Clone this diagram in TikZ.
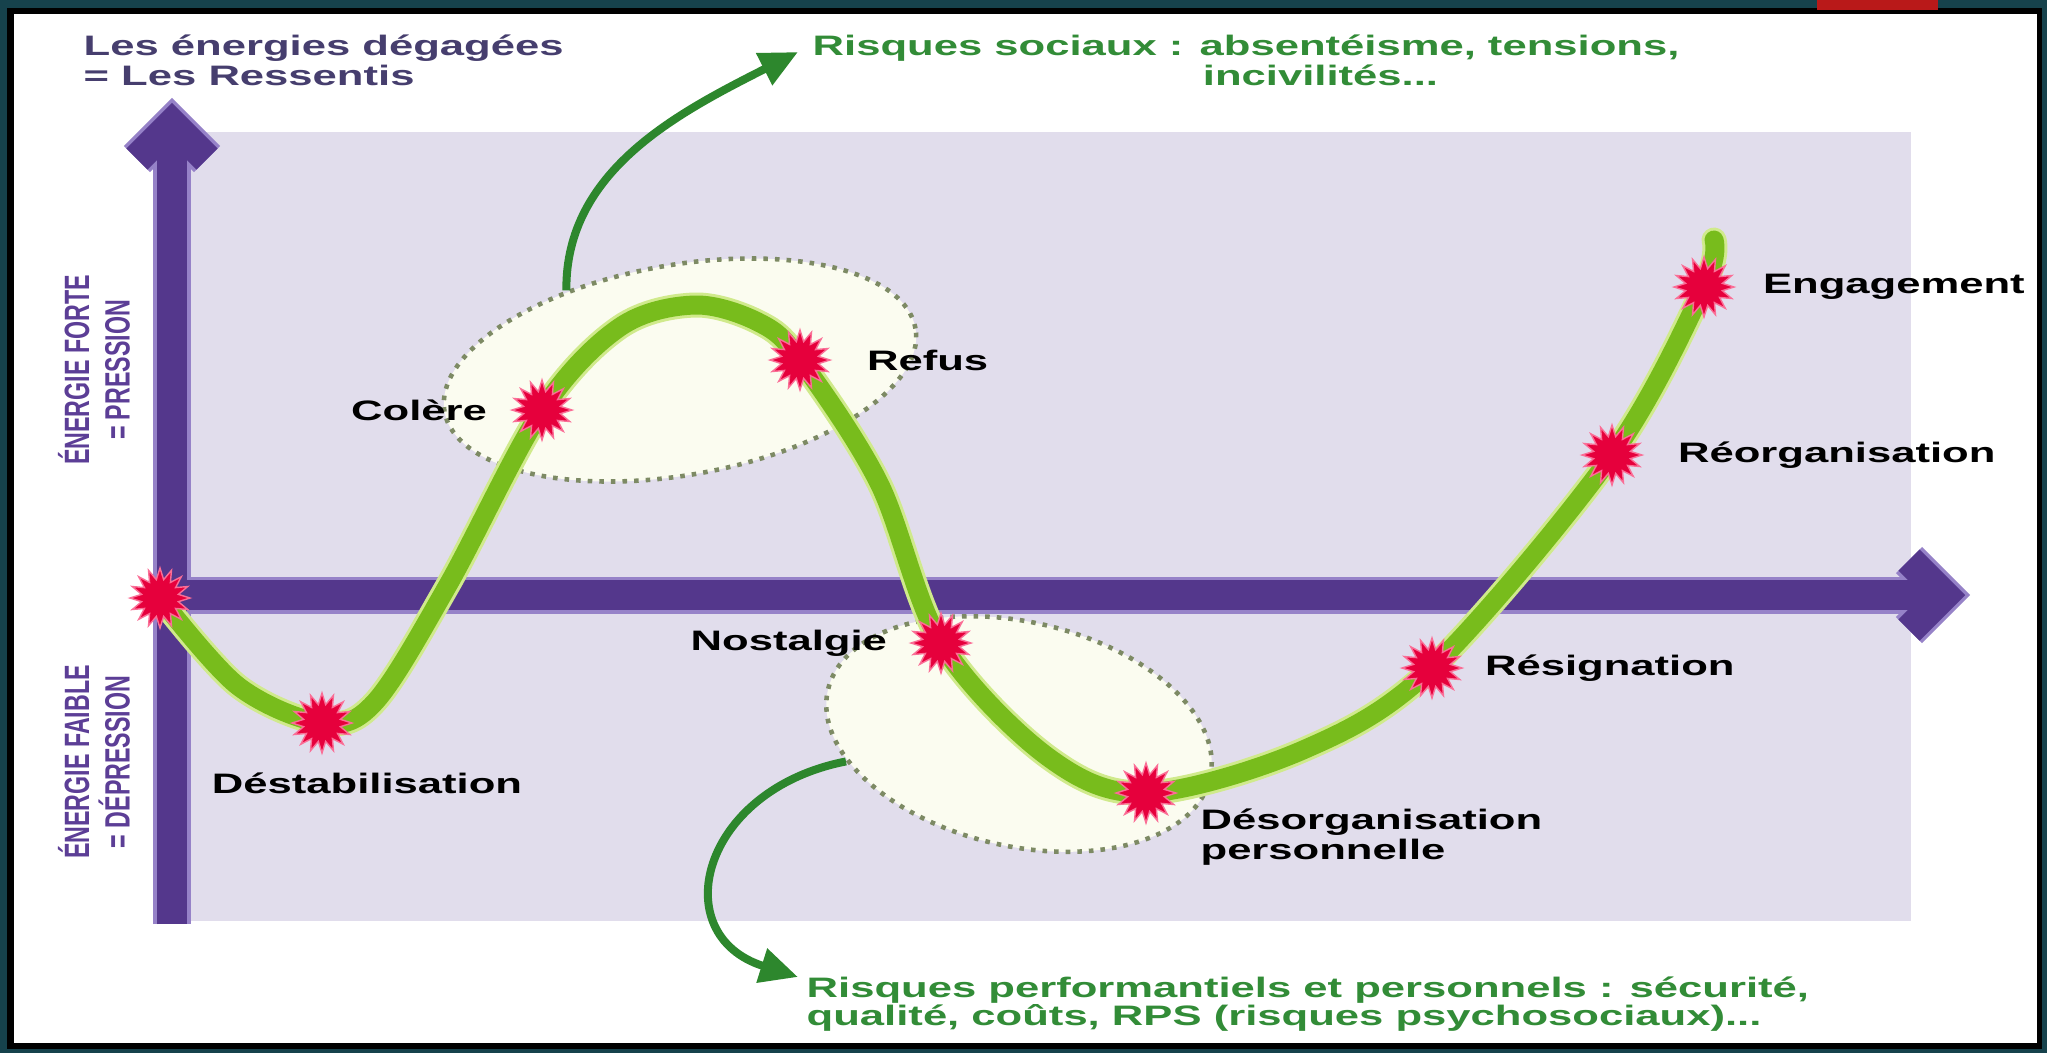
\documentclass[tikz,border=0pt]{standalone}
\usepackage{fontspec}
\setmainfont{Liberation Sans}
\newfontfamily\largefont{Liberation Sans}[FakeStretch=1.55]
\newfontfamily\serrefont{Liberation Sans}[FakeStretch=0.66]
\usepackage{tikz}
\usetikzlibrary{arrows.meta}
\usetikzlibrary{shapes.geometric}
\usetikzlibrary{positioning}
\definecolor{fondsombre}{RGB}{22,66,76}
\definecolor{bandeau}{RGB}{185,25,25}
\definecolor{lavande}{RGB}{225,221,236}
\definecolor{axeviolet}{RGB}{84,55,140}
\definecolor{axeclair}{RGB}{150,130,200}
\definecolor{courbevert}{RGB}{120,188,28}
\definecolor{courbehalo}{RGB}{208,234,140}
\definecolor{eclatrouge}{RGB}{230,0,60}
\definecolor{eclatrose}{RGB}{250,110,150}
\definecolor{bullefond}{RGB}{251,252,240}
\definecolor{bullepoint}{RGB}{125,138,100}
\definecolor{flechevert}{RGB}{45,135,45}
\definecolor{textevert}{RGB}{50,140,55}
\definecolor{textegris}{RGB}{70,62,110}
\definecolor{titreviolet}{RGB}{92,62,150}
\tikzset{
  etape/.style={font={\largefont\bfseries\fontsize{8}{8.6}\selectfont}, inner sep=0pt, align=left},
  axetexte/.style={font={\serrefont\bfseries\fontsize{10}{11.5}\selectfont}, text=titreviolet, inner sep=0pt, align=center, rotate=90},
  eclat/.style={star, star points=16, star point ratio=1.6, minimum size=0.6cm, inner sep=0pt, fill=eclatrouge, draw=eclatrose, line width=0.4pt},
  bulle/.style={ellipse, inner sep=0pt, fill=bullefond, draw=bullepoint, line width=1.3pt, dash pattern=on 1.3pt off 2pt},
  fleche/.style={-{Triangle[length=0.38cm, width=0.34cm]}, line width=0.08cm, draw=flechevert},
  courbe/.style={line cap=round, line width=#1},
}

\begin{document}
\begin{tikzpicture}[x=0.01cm, y=-0.01cm, node distance=0.3cm]
  \useasboundingbox (0,0) rectangle (2047,1053);
  \fill[fondsombre] (0,0) rectangle (2047,1053);
  \fill[black] (7,8) rectangle (2042,1049);
  \fill[white] (14,14) rectangle (2037,1043);
  \fill[bandeau] (1817,0) rectangle (1938,10);
  \fill[lavande] (189,132) rectangle (1911,921);

  \node[bulle, minimum width=4.78cm, minimum height=2.1cm, rotate=10] (zone1) at (680,370) {};
  \node[bulle, minimum width=3.92cm, minimum height=2.24cm, rotate=-13] (zone2) at (1019,734) {};

  \foreach \c/\w in {axeclair/0.37cm, axeviolet/0.3cm} {
    \draw[line width=\w, \c] (172,924) -- (172,124);
    \draw[line width=\w, \c, line join=miter] (137,159) -- (172,124) -- (207,159);
    \draw[line width=\w, \c] (154,595) -- (1944,595);
    \draw[line width=\w, \c, line join=miter] (1909,560) -- (1944,595) -- (1909,630);
  }

  \coordinate (depart) at (160,598);
  \coordinate (destab) at (322,723);
  \coordinate (colere) at (542,410);
  \coordinate (refus) at (800,360);
  \coordinate (nostal) at (941,643);
  \coordinate (desorg) at (1146,793);
  \coordinate (resign) at (1432,668);
  \coordinate (reorg) at (1612,455);
  \coordinate (engag) at (1704,287);
  \coordinate (fin) at (1714,240);

  \foreach \c/\w in {courbehalo/0.25cm, courbevert/0.19cm}
    \draw[courbe=\w, \c] plot[smooth, tension=0.55] coordinates {(depart) (238,686) (destab) (375,702) (448,585) (colere) (620,327) (695,305) (760,323) (refus) (879,483) (nostal) (1048,757) (desorg) (1303,750) (resign) (reorg) (engag) (fin)};

  \foreach \p in {depart,destab,colere,refus,nostal,desorg,resign,reorg,engag}
    \node[eclat] (e-\p) at (\p) {};

  \node[etape, right=0.26cm of e-engag] (t-engag) {Engagement};
  \node[etape, right=0.33cm of e-reorg] (t-reorg) {Réorganisation};
  \node[etape, right=0.2cm of e-resign] (t-resign) {Résignation};
  \node[etape, right=0.34cm of e-refus] (t-refus) {Refus};
  \node[etape, left=0.22cm of e-colere] (t-colere) {Colère};
  \node[etape, left=0.21cm of e-nostal] (t-nostal) {Nostalgie};
  \node[etape, below=0.17cm of e-destab, xshift=0.45cm] (t-destab) {Déstabilisation};
  \node[etape, below right=-0.08cm and 0.31cm of e-desorg] (t-desorg) {Désorganisation\\personnelle};

  \node[etape, text=textegris, anchor=north west] (titre) at (83,34) {Les énergies dégagées\\= Les Ressentis};
  \node[axetexte] (forte) at (94,370) {ÉNERGIE FORTE\\= PRESSION};
  \node[axetexte] (faible) at (94,762) {ÉNERGIE FAIBLE\\= DÉPRESSION};

  \node[etape, text=textevert, anchor=north west] (risque1) at (812,34) {Risques sociaux : absentéisme, tensions,\\\hspace*{3.9cm}incivilités...};
  \node[etape, text=textevert, anchor=north west, font={\largefont\bfseries\fontsize{8}{8}\selectfont}] (risque2) at (806,976) {Risques performantiels et personnels : sécurité,\\qualité, coûts, RPS (risques psychosociaux)...};

  \coordinate (pointe1) at (798,52);
  \coordinate (pointe2) at (798,977);
  \draw[fleche] (zone1.135) .. controls (565,170) and (680,112) .. (pointe1);
  \draw[fleche] (zone2.202) .. controls (700,790) and (665,935) .. (pointe2);
\end{tikzpicture}
\end{document}
